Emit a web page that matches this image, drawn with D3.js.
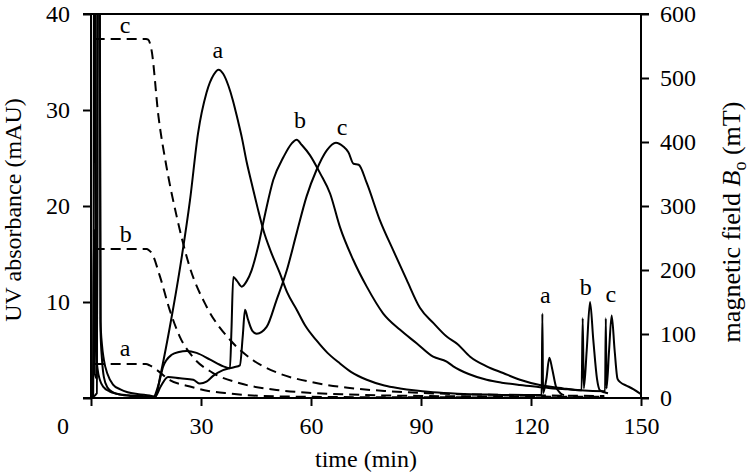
<!DOCTYPE html>
<html>
<head>
<meta charset="utf-8">
<script src="https://cdn.jsdelivr.net/npm/d3@7"></script>
<style>
  html, body { margin: 0; padding: 0; background: #fff; }
  svg { display: block; }
  text { font-family: "Liberation Serif", "Times New Roman", serif; fill: #000; }
</style>
</head>
<body>
<svg id="chart" width="751" height="474"></svg>
<script>
// ---------------- data ----------------
const xTicks = [0, 30, 60, 90, 120, 150];
const yLeftTicks = [0, 10, 20, 30, 40];
const yRightTicks = [0, 100, 200, 300, 400, 500, 600];

const xLabel = "time (min)";
const yLeftLabel = "UV absorbance (mAU)";

// UV absorbance traces [time, mAU]
const uvA = [[0,0],[0.5,0.2],[0.8,17.5],[1.05,2.5],[1.7,2],[1.9,60],[2.3,60],[2.6,7],[3,4],[3.5,2.2],[4.5,1.1],[6,0.6],[8,0.35],[11,0.2],[15,0.1],[17.5,0.05],[19,2.5],[21.5,7.4],[24.3,13.6],[27,20.6],[29.2,27.6],[31.5,31.8],[33.5,33.7],[34.8,34.2],[36,33.8],[37.5,32.5],[38.7,31],[40,29],[41.1,27.2],[42.5,24.5],[43.8,22.4],[45.5,19.7],[47,17.5],[49,15.3],[51.5,13],[53.5,11],[56.1,9.2],[58.5,7.5],[61.5,6.0],[64.5,4.7],[67.9,3.6],[71,2.7],[75.2,1.9],[80,1.3],[84.3,1.0],[88,0.8],[93.3,0.6],[100,0.45],[110,0.35],[122.9,0.3],[123.1,8.8],[123.3,0.5],[124.2,2],[125,4.2],[125.8,3],[126.8,1.2],[128,0.5],[129,0.3]];
const uvB = [[0,0],[0.6,0.3],[0.9,60],[1.15,60],[1.35,5],[1.8,3],[2.5,1.8],[3.5,1.1],[5,0.7],[7,0.45],[10,0.3],[14,0.2],[17,0.1],[18.5,1.5],[19.7,3.3],[22,4.5],[24,4.8],[26.1,4.9],[28.8,4.7],[32.5,4.0],[36.1,3.3],[37.9,3.1],[38.3,7],[38.8,12.6],[39.8,12.2],[41.1,11.6],[42.5,12.2],[43.8,13.3],[45.6,15.8],[47.5,19.2],[49.7,22.7],[52.5,25.1],[54.7,26.5],[56.1,26.9],[57.5,26.35],[59.7,25.3],[62.5,23.4],[65.2,21.3],[67.9,17.8],[71.5,14.4],[75.2,11.6],[79.7,8.8],[84.3,7.1],[88.8,5.7],[93.3,4.3],[97,3.8],[98.8,3.3],[103,2.5],[107.9,1.9],[112,1.6],[117,1.35],[122,1.15],[126,1.0],[130,0.9],[133.8,0.8],[134.1,8.3],[134.4,1],[135.2,5],[136.1,10],[137,6],[138,2],[138.8,0.8],[140,0.6],[141,0.5]];
const uvC = [[0,0],[1.6,0.5],[1.85,60],[2.25,60],[2.6,8],[3,5.5],[3.5,4],[4.5,2.5],[6,1.4],[8,0.9],[10,0.6],[13,0.4],[16,0.25],[17.5,0.15],[19,1.2],[21,2.2],[24.3,2.05],[27.9,1.9],[29.7,1.5],[31.5,1.7],[33.3,2.3],[36,2.9],[39,3.2],[40.6,3.4],[41.4,6.5],[42,9.2],[42.8,8.2],[44,7.0],[45.2,6.7],[47.9,7.4],[50.6,10.2],[53.4,13.3],[56.1,17.2],[58.8,21],[61.5,23.75],[64.3,25.8],[66.8,26.6],[68.8,26.2],[70.2,25.6],[71.6,24.4],[73,24.3],[75.2,22.4],[78.8,18.5],[82.4,15.4],[86.1,12.3],[89.7,9.4],[93.4,7.8],[97,6.4],[100,5.6],[103.4,4.3],[107.9,3.3],[112.4,2.6],[117,1.9],[122.4,1.35],[128.8,1.0],[133.4,0.8],[140.2,0.7],[140.4,8.3],[140.6,1],[141.3,5],[142,8.6],[142.8,5],[143.6,2],[144.5,1.6],[146,1.3],[148,0.9],[150,0.4]];

// magnetic field traces [time, mT]
const fieldA = [[1,53],[15,53],[16,51],[17.9,44],[21.5,28],[27,18],[32,11],[37.9,7],[44,4],[51.5,2.5],[60,1.8],[80,1.2],[100,1],[120,0.9],[140,0.8]];
const fieldB = [[1,233],[15.2,233],[15.8,231],[16.6,226],[18.8,190],[21.5,137],[24.2,96],[27.8,64],[33.3,39],[40.6,23],[51.5,12],[60,8],[70,5.5],[80,4],[90,3.2],[100,2.7],[120,2.2],[140,2]];
const fieldC = [[1,561],[15,561],[15.6,560],[16.5,544],[18.4,440],[20.6,361],[23.4,283],[26.9,205],[31.5,143],[37.9,91],[44.2,59],[51.5,38],[60,25],[70,16],[80,11],[90,8],[100,6],[110,5],[120,4.2],[130,3.6],[140,3.2]];

// curve labels
const uvLabels = [
  {text: "a", t: 34.6, v: 35.4}, {text: "b", t: 57, v: 28.1}, {text: "c", t: 68.5, v: 27.4},
  {text: "a", t: 123.9, v: 9.9}, {text: "b", t: 134.9, v: 10.7}, {text: "c", t: 141.8, v: 10.0}
];
const fieldLabels = [
  {text: "c", t: 9.3, v: 570}, {text: "b", t: 9.5, v: 244}, {text: "a", t: 9.3, v: 66}
];

// ---------------- layout ----------------
const mLeft = 91, mRight = 641, mTop = 14, mBottom = 398;
const svg = d3.select("#chart");
const FS = 24;

const x = d3.scaleLinear().domain([0, 150]).range([mLeft, mRight]);
const yL = d3.scaleLinear().domain([0, 40]).range([mBottom, mTop]);
const yR = d3.scaleLinear().domain([0, 600]).range([mBottom, mTop]);

svg.append("defs").append("clipPath").attr("id", "plot")
  .append("rect").attr("x", mLeft).attr("y", mTop).attr("width", mRight - mLeft).attr("height", mBottom - mTop);

const plot = svg.append("g").attr("clip-path", "url(#plot)");

const lineUV = d3.line().x(d => x(d[0])).y(d => yL(d[1])).curve(d3.curveMonotoneX);
const lineB = d3.line().x(d => x(d[0])).y(d => yR(d[1])).curve(d3.curveMonotoneX);

[fieldA, fieldB, fieldC].forEach(s => {
  plot.append("path").attr("d", lineB(s)).attr("fill", "none")
    .attr("stroke", "#000").attr("stroke-width", 2).attr("stroke-dasharray", "10,6");
});
[uvA, uvB, uvC].forEach(s => {
  plot.append("path").attr("d", lineUV(s)).attr("fill", "none")
    .attr("stroke", "#000").attr("stroke-width", 2).attr("stroke-linejoin", "round");
});

// ---------------- axes ----------------
const tickLen = 8;
const xAxis = d3.axisBottom(x).tickValues(xTicks).tickSize(tickLen).tickSizeOuter(0).tickPadding(11)
  .tickFormat(d => d === 0 ? "" : d);
const gx = svg.append("g").attr("transform", `translate(0,${mBottom})`).call(xAxis);

const yAxisL = d3.axisLeft(yL).tickValues(yLeftTicks).tickSize(tickLen).tickSizeOuter(0).tickPadding(13)
  .tickFormat(d => d === 0 ? "" : d);
const gyl = svg.append("g").attr("transform", `translate(${mLeft},0)`).call(yAxisL);

const yAxisR = d3.axisRight(yR).tickValues(yRightTicks).tickSize(tickLen).tickSizeOuter(0).tickPadding(11);
const gyr = svg.append("g").attr("transform", `translate(${mRight},0)`).call(yAxisR);

[gx, gyl, gyr].forEach(g => {
  g.select(".domain").remove();
  g.selectAll(".tick line").attr("stroke", "#000").attr("stroke-width", 2);
  g.selectAll(".tick text").attr("font-size", FS).attr("font-family", "Liberation Serif").attr("fill", "#000");
});

// frame lines
const frame = svg.append("g").attr("stroke", "#000").attr("stroke-width", 2);
frame.append("line").attr("x1", mLeft - tickLen).attr("x2", mRight + tickLen).attr("y1", mBottom).attr("y2", mBottom);
frame.append("line").attr("x1", mLeft - tickLen).attr("x2", mRight + tickLen).attr("y1", mTop).attr("y2", mTop);
frame.append("line").attr("x1", mLeft).attr("x2", mLeft).attr("y1", mTop).attr("y2", mBottom);
frame.append("line").attr("x1", mRight).attr("x2", mRight).attr("y1", mTop).attr("y2", mBottom);

// shared origin "0" label
svg.append("text").attr("x", x(0) - 28).attr("y", mBottom + 36)
  .attr("text-anchor", "middle").attr("font-size", FS).text(xTicks[0]);

// axis titles
svg.append("text").attr("x", (mLeft + mRight) / 2).attr("y", 467)
  .attr("text-anchor", "middle").attr("font-size", FS).text(xLabel);

svg.append("text").attr("transform", `translate(21,${(mTop + mBottom) / 2 + 4}) rotate(-90)`)
  .attr("text-anchor", "middle").attr("font-size", FS).text(yLeftLabel);

const rt = svg.append("text").attr("transform", `translate(740,222) rotate(-90)`)
  .attr("text-anchor", "middle").attr("font-size", 26);
rt.append("tspan").text("magnetic field ");
rt.append("tspan").attr("font-style", "italic").text("B");
rt.append("tspan").attr("font-size", 18).attr("dy", 6).text("o");
rt.append("tspan").attr("dy", -6).text(" (mT)");

// curve labels
svg.append("g").selectAll("text").data(uvLabels).join("text")
  .attr("x", d => x(d.t)).attr("y", d => yL(d.v))
  .attr("text-anchor", "middle").attr("font-size", FS).text(d => d.text);
svg.append("g").selectAll("text").data(fieldLabels).join("text")
  .attr("x", d => x(d.t)).attr("y", d => yR(d.v))
  .attr("text-anchor", "middle").attr("font-size", FS).text(d => d.text);
</script>
</body>
</html>
